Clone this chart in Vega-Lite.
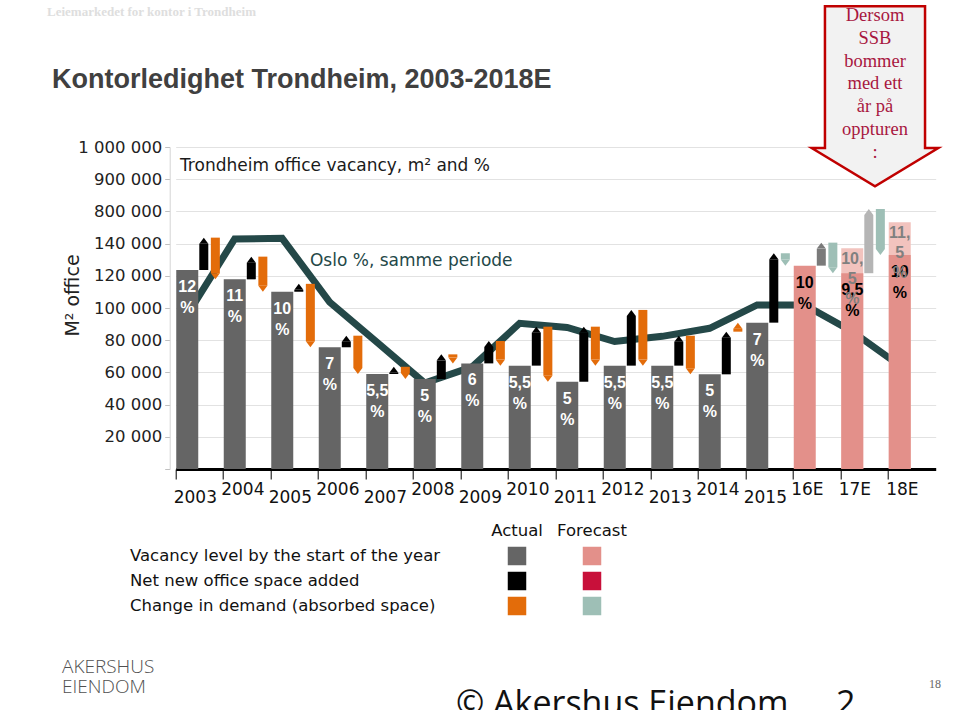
{
  "$schema": "https://vega.github.io/schema/vega-lite/v6.json",
  "width": 760,
  "height": 322,
  "autosize": {"type": "none"},
  "padding": {"left": 175.7, "top": 147, "right": 24.3, "bottom": 241},
  "background": "white",
  "config": {"view": {"stroke": null}, "font": "DejaVu Sans"},
  "title": {
    "text": "Kontorledighet Trondheim, 2003-2018E",
    "anchor": "start", "frame": "group", "orient": "top",
    "font": "Liberation Sans", "fontSize": 27, "fontWeight": "bold", "color": "#404040",
    "dx": -123.7, "dy": 93, "offset": 0
  },
  "datasets": {
    "years": [
      {"year": "2003", "phase": "actual", "series": "Vacancy actual", "vac": 123600, "oslo": 95700, "label": "12\n%"},
      {"year": "2004", "phase": "actual", "series": "Vacancy actual", "vac": 117800, "oslo": 142900, "label": "11\n%"},
      {"year": "2005", "phase": "actual", "series": "Vacancy actual", "vac": 110100, "oslo": 143300, "label": "10\n%"},
      {"year": "2006", "phase": "actual", "series": "Vacancy actual", "vac": 75600, "oslo": 103700, "label": "7\n%"},
      {"year": "2007", "phase": "actual", "series": "Vacancy actual", "vac": 59000, "oslo": 78600, "label": "5,5\n%"},
      {"year": "2008", "phase": "actual", "series": "Vacancy actual", "vac": 55900, "oslo": 53400, "label": "5\n%"},
      {"year": "2009", "phase": "actual", "series": "Vacancy actual", "vac": 65600, "oslo": 63400, "label": "6\n%"},
      {"year": "2010", "phase": "actual", "series": "Vacancy actual", "vac": 64200, "oslo": 90500, "label": "5,5\n%"},
      {"year": "2011", "phase": "actual", "series": "Vacancy actual", "vac": 54200, "oslo": 87900, "label": "5\n%"},
      {"year": "2012", "phase": "actual", "series": "Vacancy actual", "vac": 64200, "oslo": 79200, "label": "5,5\n%"},
      {"year": "2013", "phase": "actual", "series": "Vacancy actual", "vac": 64200, "oslo": 82400, "label": "5,5\n%"},
      {"year": "2014", "phase": "actual", "series": "Vacancy actual", "vac": 58800, "oslo": 87400, "label": "5\n%"},
      {"year": "2015", "phase": "actual", "series": "Vacancy actual", "vac": 90900, "oslo": 101900, "label": "7\n%"},
      {"year": "16E", "phase": "forecast", "series": "Vacancy forecast", "vac": 126300, "oslo": 101900, "label": "10\n%"},
      {"year": "17E", "phase": "forecast", "series": "Vacancy forecast", "vac": 121600, "oslo": 85400, "label": "9,5\n%", "alt": 137100, "altLabel": "10,\n5\n%"},
      {"year": "18E", "phase": "forecast", "series": "Vacancy forecast", "vac": 132900, "oslo": 64300, "label": "10\n%", "alt": 153200, "altLabel": "11,\n5\n%"}
    ],
    "flows": [
      {"year": "2003", "flow": "net", "series": "Net actual", "from": 123600, "to": 143700},
      {"year": "2003", "flow": "demand", "series": "Demand actual", "from": 143700, "to": 117800},
      {"year": "2004", "flow": "net", "series": "Net actual", "from": 117800, "to": 131900},
      {"year": "2004", "flow": "demand", "series": "Demand actual", "from": 131900, "to": 110100},
      {"year": "2005", "flow": "net", "series": "Net actual", "from": 110100, "to": 115000},
      {"year": "2005", "flow": "demand", "series": "Demand actual", "from": 115000, "to": 75600},
      {"year": "2006", "flow": "net", "series": "Net actual", "from": 75600, "to": 82800},
      {"year": "2006", "flow": "demand", "series": "Demand actual", "from": 82800, "to": 59000},
      {"year": "2007", "flow": "net", "series": "Net actual", "from": 59000, "to": 63500},
      {"year": "2007", "flow": "demand", "series": "Demand actual", "from": 63500, "to": 55900},
      {"year": "2008", "flow": "net", "series": "Net actual", "from": 55900, "to": 71200},
      {"year": "2008", "flow": "demand", "series": "Demand actual", "from": 71200, "to": 65600},
      {"year": "2009", "flow": "net", "series": "Net actual", "from": 65600, "to": 79500},
      {"year": "2009", "flow": "demand", "series": "Demand actual", "from": 79500, "to": 64200},
      {"year": "2010", "flow": "net", "series": "Net actual", "from": 64200, "to": 88400},
      {"year": "2010", "flow": "demand", "series": "Demand actual", "from": 88400, "to": 54200},
      {"year": "2011", "flow": "net", "series": "Net actual", "from": 54200, "to": 88400},
      {"year": "2011", "flow": "demand", "series": "Demand actual", "from": 88400, "to": 64200},
      {"year": "2012", "flow": "net", "series": "Net actual", "from": 64200, "to": 98800},
      {"year": "2012", "flow": "demand", "series": "Demand actual", "from": 98800, "to": 64200},
      {"year": "2013", "flow": "net", "series": "Net actual", "from": 64200, "to": 82800},
      {"year": "2013", "flow": "demand", "series": "Demand actual", "from": 82800, "to": 58800},
      {"year": "2014", "flow": "net", "series": "Net actual", "from": 58800, "to": 85300},
      {"year": "2014", "flow": "demand", "series": "Demand actual", "from": 85300, "to": 90900},
      {"year": "2015", "flow": "net", "series": "Net actual", "from": 90900, "to": 134000},
      {"year": "2015", "flow": "demand", "series": "Demand forecast", "from": 134000, "to": 126300},
      {"year": "16E", "flow": "net", "series": "Net forecast", "from": 126300, "to": 140600},
      {"year": "16E", "flow": "demand", "series": "Demand forecast", "from": 140600, "to": 121600},
      {"year": "17E", "flow": "net", "series": "Net forecast alt", "from": 121600, "to": 161500},
      {"year": "17E", "flow": "demand", "series": "Demand forecast", "from": 161500, "to": 132900}
    ]
  },
  "layer": [
    {
      "layer": [
        {
          "data": {"name": "years"},
          "mark": {"type": "line", "color": "#244848", "strokeWidth": 7, "strokeJoin": "miter"},
          "encoding": {
            "x": {"field": "year", "type": "ordinal", "sort": null, "bandPosition": 0.241,
              "scale": {"type": "band", "paddingInner": 0, "paddingOuter": 0, "domain": ["2003","2004","2005","2006","2007","2008","2009","2010","2011","2012","2013","2014","2015","16E","17E","18E"]},
              "axis": {
                "bandPosition": 0, "title": null, "grid": false,
                "domainColor": "#000000", "domainWidth": 3,
                "tickColor": "#000000", "tickSize": 10, "tickWidth": 1,
                "labelAlign": "left", "labelBaseline": "top", "labelAngle": 0,
                "labelFont": "DejaVu Sans", "labelFontSize": 17, "labelColor": "#111111",
                "labelOffset": -25.75, "labelOverlap": false,
                "labelPadding": {"condition": {"test": "indexof(['2003','2005','2007','2009','2011','2013','2015'], datum.value) >= 0", "value": 10}, "value": 2}
              }
            },
            "y": {"field": "oslo", "type": "quantitative",
              "scale": {"domain": [0, 200000], "nice": false, "zero": false},
              "axis": {
                "values": [0, 20000, 40000, 60000, 80000, 100000, 120000, 140000, 160000, 180000, 200000],
                "tickCount": 11,
                "labelExpr": "datum.value == 0 ? '' : datum.value == 160000 ? '800 000' : datum.value == 180000 ? '900 000' : datum.value == 200000 ? '1 000 000' : format(datum.value / 1000, 'd') + ' 000'",
                "labelOverlap": false,
                "offset": 6, "grid": true, "gridColor": "#e2e2e2", "gridWidth": 1,
                "domainColor": "#d4d4d4", "tickColor": "#c0c0c0", "tickSize": 5,
                "labelFont": "DejaVu Sans", "labelFontSize": 16.5, "labelColor": "#222222", "labelPadding": 3,
                "title": "M² office", "titleFont": "DejaVu Sans", "titleFontSize": 19, "titleFontWeight": "normal", "titleColor": "#222222",
                "titleX": -97, "titleY": 148, "titleAngle": -90, "titleAlign": "center", "titleBaseline": "middle"
              }
            }
          }
        },
        {
          "data": {"name": "years"},
          "transform": [{"filter": "isValid(datum.alt)"}],
          "mark": {"type": "bar", "width": 22, "xOffset": -12.2},
          "encoding": {
            "x": {"field": "year", "type": "ordinal", "sort": null,
              "scale": {"type": "band", "paddingInner": 0, "paddingOuter": 0, "domain": ["2003","2004","2005","2006","2007","2008","2009","2010","2011","2012","2013","2014","2015","16E","17E","18E"]}},
            "y": {"field": "alt", "type": "quantitative", "scale": {"domain": [0, 200000], "nice": false, "zero": false}},
            "color": {"datum": "Vacancy alt", "legend": null,
              "scale": {"domain": ["Vacancy actual","Vacancy forecast","Vacancy alt","Net actual","Net forecast","Net forecast alt","Net forecast legend","Demand actual","Demand forecast"],
                        "range": ["#656565","#e3908a","#f2c3be","#000000","#7a7a7a","#b5b5b5","#c8103a","#e36c0a","#9ebfb6"]}}
          }
        },
        {
          "data": {"name": "years"},
          "mark": {"type": "bar", "width": 22, "xOffset": -12.2},
          "encoding": {
            "x": {"field": "year", "type": "ordinal", "sort": null,
              "scale": {"type": "band", "paddingInner": 0, "paddingOuter": 0, "domain": ["2003","2004","2005","2006","2007","2008","2009","2010","2011","2012","2013","2014","2015","16E","17E","18E"]}},
            "y": {"field": "vac", "type": "quantitative", "scale": {"domain": [0, 200000], "nice": false, "zero": false}},
            "color": {"field": "series", "type": "nominal", "legend": null,
              "scale": {"domain": ["Vacancy actual","Vacancy forecast","Vacancy alt","Net actual","Net forecast","Net forecast alt","Net forecast legend","Demand actual","Demand forecast"],
                        "range": ["#656565","#e3908a","#f2c3be","#000000","#7a7a7a","#b5b5b5","#c8103a","#e36c0a","#9ebfb6"]}}
          }
        },
        {
          "data": {"name": "flows"},
          "transform": [{"filter": "datum.flow == 'net'"}],
          "mark": {"type": "bar", "width": 9, "xOffset": 4.35, "y2Offset": 6},
          "encoding": {
            "x": {"field": "year", "type": "ordinal", "sort": null,
              "scale": {"type": "band", "paddingInner": 0, "paddingOuter": 0, "domain": ["2003","2004","2005","2006","2007","2008","2009","2010","2011","2012","2013","2014","2015","16E","17E","18E"]}},
            "y": {"field": "from", "type": "quantitative", "scale": {"domain": [0, 200000], "nice": false, "zero": false}},
            "y2": {"field": "to"},
            "color": {"field": "series", "type": "nominal", "legend": null,
              "scale": {"domain": ["Vacancy actual","Vacancy forecast","Vacancy alt","Net actual","Net forecast","Net forecast alt","Net forecast legend","Demand actual","Demand forecast"],
                        "range": ["#656565","#e3908a","#f2c3be","#000000","#7a7a7a","#b5b5b5","#c8103a","#e36c0a","#9ebfb6"]}}
          }
        },
        {
          "data": {"name": "flows"},
          "transform": [{"filter": "datum.flow == 'net'"}],
          "mark": {"type": "point", "shape": "M 0 0 L 1 1.33 L -1 1.33 Z", "size": 81, "filled": true, "opacity": 1, "strokeWidth": 0, "xOffset": 4.35},
          "encoding": {
            "x": {"field": "year", "type": "ordinal", "sort": null,
              "scale": {"type": "band", "paddingInner": 0, "paddingOuter": 0, "domain": ["2003","2004","2005","2006","2007","2008","2009","2010","2011","2012","2013","2014","2015","16E","17E","18E"]}},
            "y": {"field": "to", "type": "quantitative", "scale": {"domain": [0, 200000], "nice": false, "zero": false}},
            "color": {"field": "series", "type": "nominal", "legend": null,
              "scale": {"domain": ["Vacancy actual","Vacancy forecast","Vacancy alt","Net actual","Net forecast","Net forecast alt","Net forecast legend","Demand actual","Demand forecast"],
                        "range": ["#656565","#e3908a","#f2c3be","#000000","#7a7a7a","#b5b5b5","#c8103a","#e36c0a","#9ebfb6"]}}
          }
        },
        {
          "data": {"name": "flows"},
          "transform": [{"filter": "datum.flow == 'demand' && datum.to < datum.from"}],
          "mark": {"type": "bar", "width": 9, "xOffset": 15.9, "y2Offset": -6},
          "encoding": {
            "x": {"field": "year", "type": "ordinal", "sort": null,
              "scale": {"type": "band", "paddingInner": 0, "paddingOuter": 0, "domain": ["2003","2004","2005","2006","2007","2008","2009","2010","2011","2012","2013","2014","2015","16E","17E","18E"]}},
            "y": {"field": "from", "type": "quantitative", "scale": {"domain": [0, 200000], "nice": false, "zero": false}},
            "y2": {"field": "to"},
            "color": {"field": "series", "type": "nominal", "legend": null,
              "scale": {"domain": ["Vacancy actual","Vacancy forecast","Vacancy alt","Net actual","Net forecast","Net forecast alt","Net forecast legend","Demand actual","Demand forecast"],
                        "range": ["#656565","#e3908a","#f2c3be","#000000","#7a7a7a","#b5b5b5","#c8103a","#e36c0a","#9ebfb6"]}}
          }
        },
        {
          "data": {"name": "flows"},
          "transform": [{"filter": "datum.flow == 'demand' && datum.to < datum.from"}],
          "mark": {"type": "point", "shape": "M 0 0 L 1 -1.33 L -1 -1.33 Z", "size": 81, "filled": true, "opacity": 1, "strokeWidth": 0, "xOffset": 15.9},
          "encoding": {
            "x": {"field": "year", "type": "ordinal", "sort": null,
              "scale": {"type": "band", "paddingInner": 0, "paddingOuter": 0, "domain": ["2003","2004","2005","2006","2007","2008","2009","2010","2011","2012","2013","2014","2015","16E","17E","18E"]}},
            "y": {"field": "to", "type": "quantitative", "scale": {"domain": [0, 200000], "nice": false, "zero": false}},
            "color": {"field": "series", "type": "nominal", "legend": null,
              "scale": {"domain": ["Vacancy actual","Vacancy forecast","Vacancy alt","Net actual","Net forecast","Net forecast alt","Net forecast legend","Demand actual","Demand forecast"],
                        "range": ["#656565","#e3908a","#f2c3be","#000000","#7a7a7a","#b5b5b5","#c8103a","#e36c0a","#9ebfb6"]}}
          }
        },
        {
          "data": {"name": "flows"},
          "transform": [{"filter": "datum.flow == 'demand' && datum.to > datum.from"}],
          "mark": {"type": "bar", "width": 9, "xOffset": 15.9, "y2Offset": 6},
          "encoding": {
            "x": {"field": "year", "type": "ordinal", "sort": null,
              "scale": {"type": "band", "paddingInner": 0, "paddingOuter": 0, "domain": ["2003","2004","2005","2006","2007","2008","2009","2010","2011","2012","2013","2014","2015","16E","17E","18E"]}},
            "y": {"field": "from", "type": "quantitative", "scale": {"domain": [0, 200000], "nice": false, "zero": false}},
            "y2": {"field": "to"},
            "color": {"field": "series", "type": "nominal", "legend": null,
              "scale": {"domain": ["Vacancy actual","Vacancy forecast","Vacancy alt","Net actual","Net forecast","Net forecast alt","Net forecast legend","Demand actual","Demand forecast"],
                        "range": ["#656565","#e3908a","#f2c3be","#000000","#7a7a7a","#b5b5b5","#c8103a","#e36c0a","#9ebfb6"]}}
          }
        },
        {
          "data": {"name": "flows"},
          "transform": [{"filter": "datum.flow == 'demand' && datum.to > datum.from"}],
          "mark": {"type": "point", "shape": "M 0 0 L 1 1.33 L -1 1.33 Z", "size": 81, "filled": true, "opacity": 1, "strokeWidth": 0, "xOffset": 15.9},
          "encoding": {
            "x": {"field": "year", "type": "ordinal", "sort": null,
              "scale": {"type": "band", "paddingInner": 0, "paddingOuter": 0, "domain": ["2003","2004","2005","2006","2007","2008","2009","2010","2011","2012","2013","2014","2015","16E","17E","18E"]}},
            "y": {"field": "to", "type": "quantitative", "scale": {"domain": [0, 200000], "nice": false, "zero": false}},
            "color": {"field": "series", "type": "nominal", "legend": null,
              "scale": {"domain": ["Vacancy actual","Vacancy forecast","Vacancy alt","Net actual","Net forecast","Net forecast alt","Net forecast legend","Demand actual","Demand forecast"],
                        "range": ["#656565","#e3908a","#f2c3be","#000000","#7a7a7a","#b5b5b5","#c8103a","#e36c0a","#9ebfb6"]}}
          }
        },
        {
          "data": {"name": "years"},
          "mark": {"type": "text", "align": "center", "baseline": "top", "dy": 9, "lineBreak": "\n", "lineHeight": 21, "font": "Liberation Sans", "fontSize": 16, "fontWeight": "bold", "xOffset": -12.2},
          "encoding": {
            "x": {"field": "year", "type": "ordinal", "sort": null,
              "scale": {"type": "band", "paddingInner": 0, "paddingOuter": 0, "domain": ["2003","2004","2005","2006","2007","2008","2009","2010","2011","2012","2013","2014","2015","16E","17E","18E"]}},
            "y": {"field": "vac", "type": "quantitative", "scale": {"domain": [0, 200000], "nice": false, "zero": false}},
            "text": {"field": "label"},
            "color": {"condition": {"test": "datum.phase == 'forecast'", "value": "#000000"}, "value": "#ffffff"}
          }
        },
        {
          "data": {"name": "years"},
          "transform": [{"filter": "isValid(datum.alt)"}],
          "mark": {"type": "text", "align": "center", "baseline": "top", "dy": 3, "lineBreak": "\n", "lineHeight": 20, "font": "Liberation Sans", "fontSize": 16, "fontWeight": "bold", "color": "#808080", "xOffset": -12.2},
          "encoding": {
            "x": {"field": "year", "type": "ordinal", "sort": null,
              "scale": {"type": "band", "paddingInner": 0, "paddingOuter": 0, "domain": ["2003","2004","2005","2006","2007","2008","2009","2010","2011","2012","2013","2014","2015","16E","17E","18E"]}},
            "y": {"field": "alt", "type": "quantitative", "scale": {"domain": [0, 200000], "nice": false, "zero": false}},
            "text": {"field": "altLabel"}
          }
        },
        {
          "data": {"values": [{"year": "2003", "y": 188200, "text": "Trondheim office vacancy, m² and %"}]},
          "mark": {"type": "text", "align": "left", "baseline": "middle", "font": "DejaVu Sans", "fontSize": 17, "color": "#1a1a1a"},
          "encoding": {
            "x": {"field": "year", "type": "ordinal", "sort": null, "bandPosition": 0.09,
              "scale": {"type": "band", "paddingInner": 0, "paddingOuter": 0, "domain": ["2003","2004","2005","2006","2007","2008","2009","2010","2011","2012","2013","2014","2015","16E","17E","18E"]}},
            "y": {"field": "y", "type": "quantitative", "scale": {"domain": [0, 200000], "nice": false, "zero": false}},
            "text": {"field": "text"}
          }
        },
        {
          "data": {"values": [{"year": "2005", "y": 129200, "text": "Oslo %, samme periode"}]},
          "mark": {"type": "text", "align": "left", "baseline": "middle", "font": "DejaVu Sans", "fontSize": 17, "color": "#244848"},
          "encoding": {
            "x": {"field": "year", "type": "ordinal", "sort": null, "bandPosition": 0.827,
              "scale": {"type": "band", "paddingInner": 0, "paddingOuter": 0, "domain": ["2003","2004","2005","2006","2007","2008","2009","2010","2011","2012","2013","2014","2015","16E","17E","18E"]}},
            "y": {"field": "y", "type": "quantitative", "scale": {"domain": [0, 200000], "nice": false, "zero": false}},
            "text": {"field": "text"}
          }
        },
        {
          "data": {"values": [{"year": "2003", "y": 283900, "text": "Leiemarkedet for kontor i Trondheim"}]},
          "mark": {"type": "text", "align": "left", "baseline": "middle", "dx": -128.7, "font": "Liberation Serif", "fontSize": 13, "fontWeight": "bold", "color": "#dedede"},
          "encoding": {
            "x": {"field": "year", "type": "ordinal", "sort": null, "bandPosition": 0,
              "scale": {"type": "band", "paddingInner": 0, "paddingOuter": 0, "domain": ["2003","2004","2005","2006","2007","2008","2009","2010","2011","2012","2013","2014","2015","16E","17E","18E"]}},
            "y": {"field": "y", "type": "quantitative", "scale": {"domain": [0, 200000], "nice": false, "zero": false}},
            "text": {"field": "text"}
          }
        },
        {
          "data": {"values": [{"year": "17E", "y": 231500}]},
          "mark": {"type": "point", "shape": "M -0.556 -1 L 0.556 -1 L 0.556 0.574 L 0.703 0.574 L 0 1 L -0.703 0.574 L -0.556 0.574 Z", "size": 32400, "filled": true, "fill": "#f2f2f2", "stroke": "#c00000", "strokeWidth": 2.5, "opacity": 1, "strokeJoin": "miter"},
          "encoding": {
            "x": {"field": "year", "type": "ordinal", "sort": null, "bandPosition": 0.722,
              "scale": {"type": "band", "paddingInner": 0, "paddingOuter": 0, "domain": ["2003","2004","2005","2006","2007","2008","2009","2010","2011","2012","2013","2014","2015","16E","17E","18E"]}},
            "y": {"field": "y", "type": "quantitative", "scale": {"domain": [0, 200000], "nice": false, "zero": false}}
          }
        },
        {
          "data": {"values": [{"year": "17E", "y": 282000, "text": "Dersom\nSSB\nbommer\nmed ett\når på\noppturen\n:"}]},
          "mark": {"type": "text", "align": "center", "baseline": "middle", "lineBreak": "\n", "lineHeight": 22.8, "font": "Liberation Serif", "fontSize": 18.5, "color": "#a8173f"},
          "encoding": {
            "x": {"field": "year", "type": "ordinal", "sort": null, "bandPosition": 0.722,
              "scale": {"type": "band", "paddingInner": 0, "paddingOuter": 0, "domain": ["2003","2004","2005","2006","2007","2008","2009","2010","2011","2012","2013","2014","2015","16E","17E","18E"]}},
            "y": {"field": "y", "type": "quantitative", "scale": {"domain": [0, 200000], "nice": false, "zero": false}},
            "text": {"field": "text"}
          }
        },
        {
          "data": {"values": [{"year": "2003", "y": -123000, "text": "AKERSHUS\nEIENDOM"}]},
          "mark": {"type": "text", "align": "left", "baseline": "middle", "dx": -113.7, "lineBreak": "\n", "lineHeight": 20, "font": "Open Sans", "fontSize": 19, "fontWeight": 300, "color": "#505050"},
          "encoding": {
            "x": {"field": "year", "type": "ordinal", "sort": null, "bandPosition": 0,
              "scale": {"type": "band", "paddingInner": 0, "paddingOuter": 0, "domain": ["2003","2004","2005","2006","2007","2008","2009","2010","2011","2012","2013","2014","2015","16E","17E","18E"]}},
            "y": {"field": "y", "type": "quantitative", "scale": {"domain": [0, 200000], "nice": false, "zero": false}},
            "text": {"field": "text"}
          }
        },
        {
          "data": {"values": [{"year": "2008", "y": -152800, "text": "© Akershus Eiendom"}, {"year": "16E", "y": -152800, "text": "2"}]},
          "mark": {"type": "text", "align": "left", "baseline": "alphabetic", "font": "Open Sans", "fontSize": 34, "color": "#111111"},
          "encoding": {
            "x": {"field": "year", "type": "ordinal", "sort": null, "bandPosition": 0.9,
              "scale": {"type": "band", "paddingInner": 0, "paddingOuter": 0, "domain": ["2003","2004","2005","2006","2007","2008","2009","2010","2011","2012","2013","2014","2015","16E","17E","18E"]}},
            "y": {"field": "y", "type": "quantitative", "scale": {"domain": [0, 200000], "nice": false, "zero": false}},
            "text": {"field": "text"}
          }
        },
        {
          "data": {"values": [{"year": "18E", "y": -133500, "text": "18"}]},
          "mark": {"type": "text", "align": "center", "baseline": "middle", "font": "Liberation Serif", "fontSize": 12, "color": "#666666"},
          "encoding": {
            "x": {"field": "year", "type": "ordinal", "sort": null, "bandPosition": 0.985,
              "scale": {"type": "band", "paddingInner": 0, "paddingOuter": 0, "domain": ["2003","2004","2005","2006","2007","2008","2009","2010","2011","2012","2013","2014","2015","16E","17E","18E"]}},
            "y": {"field": "y", "type": "quantitative", "scale": {"domain": [0, 200000], "nice": false, "zero": false}},
            "text": {"field": "text"}
          }
        }
      ]
    },
    {
      "layer": [
        {
          "data": {"values": [
            {"row": "Vacancy level by the start of the year", "col": "Actual", "series": "Vacancy actual"},
            {"row": "Vacancy level by the start of the year", "col": "Forecast", "series": "Vacancy forecast"},
            {"row": "Net new office space added", "col": "Actual", "series": "Net actual"},
            {"row": "Net new office space added", "col": "Forecast", "series": "Net forecast legend"},
            {"row": "Change in demand (absorbed space)", "col": "Actual", "series": "Demand actual"},
            {"row": "Change in demand (absorbed space)", "col": "Forecast", "series": "Demand forecast"}
          ]},
          "mark": {"type": "square", "size": 342, "filled": true, "opacity": 1},
          "encoding": {
            "x": {"field": "col", "type": "nominal", "axis": null,
              "scale": {"type": "point", "domain": ["Actual", "Forecast"], "range": [341.3, 416.3], "padding": 0}},
            "y": {"field": "row", "type": "nominal", "axis": null,
              "scale": {"type": "point", "domain": ["hdr", "Vacancy level by the start of the year", "Net new office space added", "Change in demand (absorbed space)"], "range": [384, 459], "padding": 0}},
            "color": {"field": "series", "type": "nominal", "legend": null,
              "scale": {"domain": ["Vacancy actual","Vacancy forecast","Vacancy alt","Net actual","Net forecast","Net forecast alt","Net forecast legend","Demand actual","Demand forecast"],
                        "range": ["#656565","#e3908a","#f2c3be","#000000","#7a7a7a","#b5b5b5","#c8103a","#e36c0a","#9ebfb6"]}}
          }
        },
        {
          "data": {"values": [{"col": "Actual", "row": "hdr"}, {"col": "Forecast", "row": "hdr"}]},
          "mark": {"type": "text", "align": "center", "baseline": "middle", "font": "DejaVu Sans", "fontSize": 16.5, "color": "#111111"},
          "encoding": {
            "x": {"field": "col", "type": "nominal", "axis": null,
              "scale": {"type": "point", "domain": ["Actual", "Forecast"], "range": [341.3, 416.3], "padding": 0}},
            "y": {"field": "row", "type": "nominal", "axis": null,
              "scale": {"type": "point", "domain": ["hdr", "Vacancy level by the start of the year", "Net new office space added", "Change in demand (absorbed space)"], "range": [384, 459], "padding": 0}},
            "text": {"field": "col"}
          }
        },
        {
          "data": {"values": [
            {"col": "Actual", "row": "Vacancy level by the start of the year"},
            {"col": "Actual", "row": "Net new office space added"},
            {"col": "Actual", "row": "Change in demand (absorbed space)"}
          ]},
          "mark": {"type": "text", "align": "left", "baseline": "middle", "dx": -387, "font": "DejaVu Sans", "fontSize": 16.5, "color": "#111111"},
          "encoding": {
            "x": {"field": "col", "type": "nominal", "axis": null,
              "scale": {"type": "point", "domain": ["Actual", "Forecast"], "range": [341.3, 416.3], "padding": 0}},
            "y": {"field": "row", "type": "nominal", "axis": null,
              "scale": {"type": "point", "domain": ["hdr", "Vacancy level by the start of the year", "Net new office space added", "Change in demand (absorbed space)"], "range": [384, 459], "padding": 0}},
            "text": {"field": "row"}
          }
        }
      ]
    }
  ],
  "resolve": {"scale": {"x": "independent", "y": "independent"}}
}
